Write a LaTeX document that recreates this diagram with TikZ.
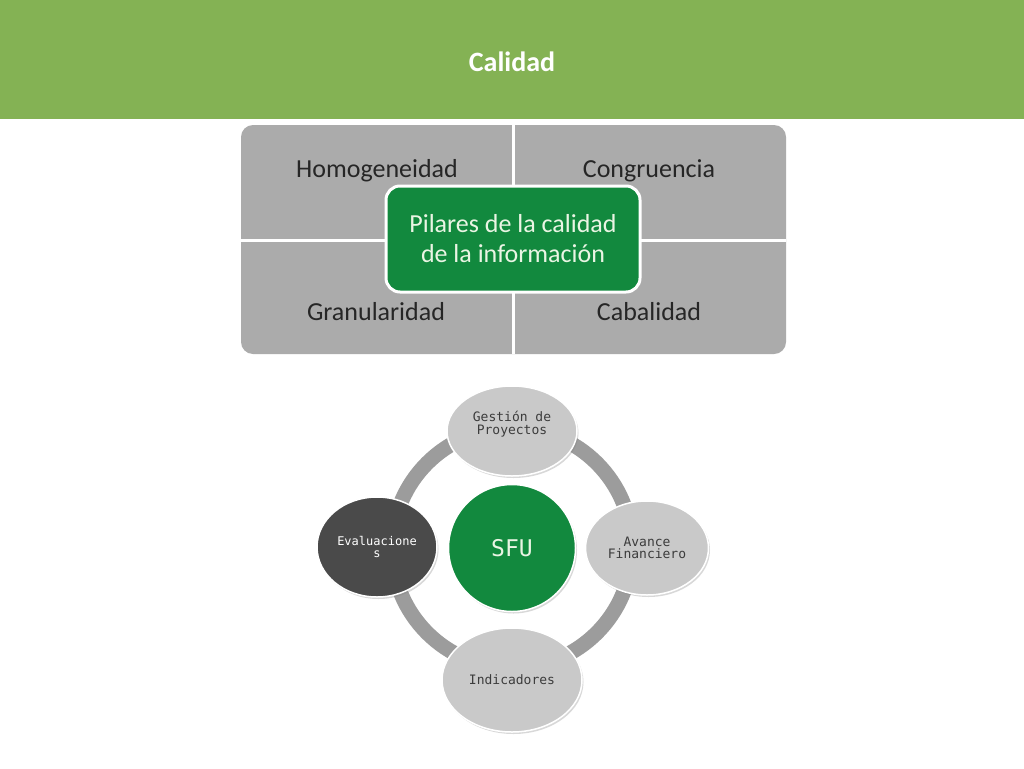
\documentclass[tikz,border=0pt]{standalone}
\usepackage{fontspec}
\setmainfont{Carlito}
\newfontfamily\monofont{DejaVu Sans Mono}
\usetikzlibrary{shapes.geometric,shadows}

\definecolor{bandgreen}{HTML}{84B254}
\definecolor{panelgray}{HTML}{ABABAB}
\definecolor{pillargreen}{HTML}{12893E}
\definecolor{pillartext}{HTML}{EAF5E4}
\definecolor{ringgray}{HTML}{9C9C9C}
\definecolor{bubblegray}{HTML}{C9C9C9}
\definecolor{darkbubble}{HTML}{4A4A4A}
\definecolor{bubbletext}{HTML}{3C3C3C}

\begin{document}
\begin{tikzpicture}[x=1pt, y=-1pt,
    quadrant/.style={anchor=base, text=black!85, font=\fontsize{26}{30}\selectfont},
    divider/.style={white, line width=3pt},
    ring/.style={ringgray, line width=15pt},
    bubble/.style={ellipse, draw=white, line width=1.5pt, fill=bubblegray,
        inner sep=0pt, align=center, text=bubbletext,
        font=\monofont\fontsize{13}{12.5}\selectfont,
        drop shadow={opacity=0.3, shadow xshift=1.5pt, shadow yshift=-2pt}}]
    \useasboundingbox (0,0) rectangle (1024,768);
    \fill[white] (0,0) rectangle (1024,768);

    % header
    \fill[bandgreen] (0,0) rectangle (1024,119);
    \node[text=white, font=\bfseries\fontsize{28}{32}\selectfont] (title) at (512,62) {Calidad};

    % pilares
    \fill[panelgray, rounded corners=12pt] (241,125) rectangle (786,354);
    \draw[divider] (513,125) -- (513,354);
    \draw[divider] (241,240) -- (786,240);

    \node[quadrant] (homog) at (377,177) {Homogeneidad};
    \node[quadrant] (congr) at (649,177) {Congruencia};
    \node[quadrant] (granu) at (376,320) {Granularidad};
    \node[quadrant] (cabal) at (649,320) {Cabalidad};

    \node[rectangle, rounded corners=14pt, draw=white, line width=3pt, fill=pillargreen,
        minimum width=254pt, minimum height=106pt, align=center, text=pillartext,
        font=\fontsize{26}{30}\selectfont] (pilares) at (513,239)
        {Pilares de la calidad\\de la información};

    % ciclo SFU
    \coordinate (hub) at (512,548);
    \draw[ring] (hub) circle[radius=120pt];

    \node[circle, draw=white, line width=1.5pt, fill=pillargreen, minimum size=127pt,
        inner sep=0pt, text=pillartext, font=\monofont\fontsize{23}{26}\selectfont,
        drop shadow={opacity=0.3, shadow xshift=1.5pt, shadow yshift=-2pt}] (sfu) at (hub) {SFU};

    \node[bubble, minimum width=130pt, minimum height=90pt] (gestion) at (512,431) {Gestión de\\Proyectos\\[4pt]};
    \node[bubble, minimum width=123pt, minimum height=94pt] (avance) at (647,548) {Avance\\Financiero};
    \node[bubble, minimum width=140pt, minimum height=104pt] (indic) at (512,680) {Indicadores};
    \node[bubble, fill=darkbubble, text=white, font=\monofont\fontsize{12}{11.5}\selectfont,
        minimum width=120pt, minimum height=100pt] (evalu) at (377,547) {Evaluacione\\s};
\end{tikzpicture}
\end{document}
